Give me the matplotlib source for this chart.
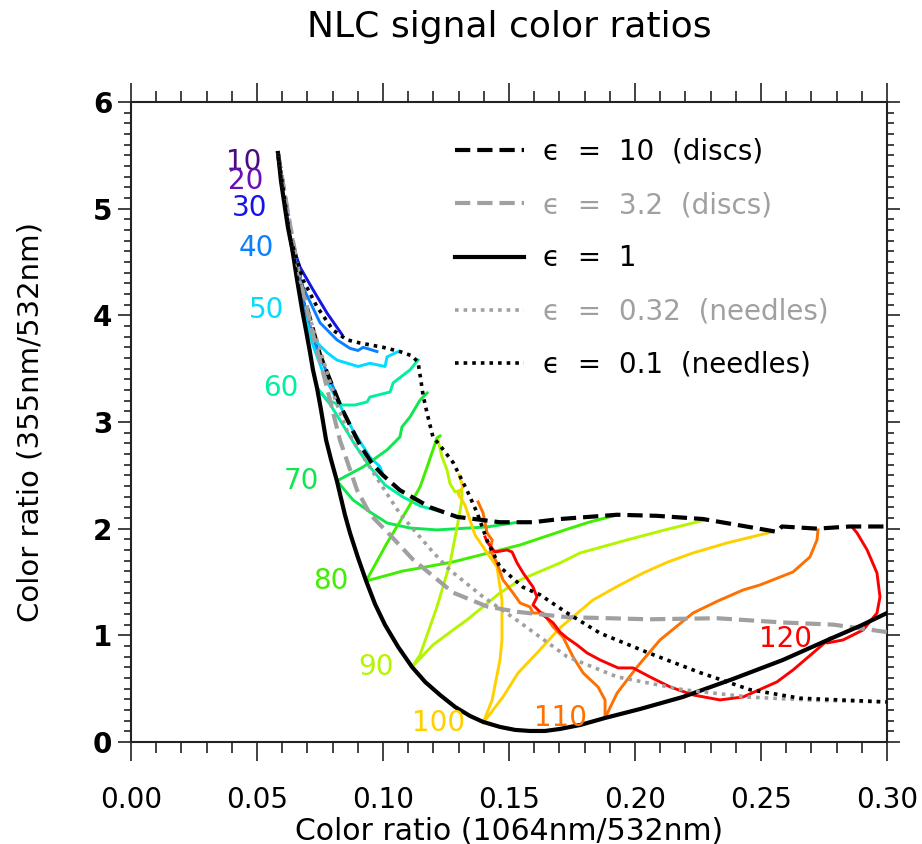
import matplotlib
matplotlib.use("Agg")
import matplotlib.pyplot as plt
from matplotlib.ticker import MultipleLocator, FormatStrFormatter

plt.rcParams['font.family'] = ['DejaVu Sans']
plt.rcParams['lines.scale_dashes'] = False

# aspect-ratio curves (x = 1064/532 ratio, y = 355/532 ratio)
eps10_x = [0.0583, 0.0631, 0.0690, 0.0750, 0.0829, 0.0909, 0.0960, 0.1000, 0.1067, 0.1187, 0.1294,
           0.1464, 0.1595, 0.1702, 0.1929, 0.2087, 0.2270, 0.2417, 0.2563, 0.2583, 0.2722,
           0.2853, 0.3000]
eps10_y = [5.52, 4.80, 4.14, 3.63, 3.16, 2.78, 2.60, 2.50, 2.36, 2.20, 2.11,
           2.06, 2.06, 2.09, 2.13, 2.12, 2.09, 2.03, 1.97, 2.02, 2.00,
           2.02, 2.02]

eps32_x = [0.0583, 0.0631, 0.0671, 0.0718, 0.0770, 0.0829, 0.0897, 0.0950, 0.1016, 0.1119, 0.1278,
           0.1413, 0.1532, 0.1730, 0.2059, 0.2325, 0.2587, 0.2786, 0.3000]
eps32_y = [5.52, 4.85, 4.33, 3.86, 3.39, 2.83, 2.36, 2.13, 1.97, 1.71, 1.40,
           1.27, 1.22, 1.17, 1.15, 1.16, 1.12, 1.10, 1.03]

eps1_x = [0.0583, 0.0587, 0.0595, 0.0611, 0.0623, 0.0639, 0.0659, 0.0679, 0.0694, 0.0710,
          0.0722, 0.0738, 0.0754, 0.0774, 0.0794, 0.0817, 0.0849, 0.0869, 0.0901, 0.0933,
          0.0968, 0.1008, 0.1060, 0.1115, 0.1167, 0.1226, 0.1286, 0.1345, 0.1397, 0.1464,
          0.1524, 0.1583, 0.1643, 0.1702, 0.1782, 0.1881, 0.2020, 0.2190, 0.2389, 0.2587,
          0.2774, 0.2893, 0.3000]
eps1_y = [5.522, 5.438, 5.259, 5.006, 4.819, 4.631, 4.331, 4.050, 3.863, 3.656,
          3.488, 3.319, 3.113, 2.831, 2.644, 2.447, 2.128, 1.959, 1.725, 1.509,
          1.294, 1.097, 0.891, 0.703, 0.563, 0.441, 0.328, 0.244, 0.188, 0.141,
          0.113, 0.103, 0.103, 0.122, 0.159, 0.225, 0.309, 0.422, 0.591, 0.769,
          0.966, 1.088, 1.209]

eps032_x = [0.0583, 0.0631, 0.0671, 0.0718, 0.0770, 0.0810, 0.0857, 0.0909, 0.0960, 0.1067,
            0.1198, 0.1266, 0.1397, 0.1532, 0.1730, 0.1929, 0.2190, 0.2456, 0.2722, 0.3000]
eps032_y = [5.52, 4.85, 4.33, 3.91, 3.53, 3.21, 2.92, 2.72, 2.53, 2.14,
            1.78, 1.61, 1.36, 1.14, 0.80, 0.61, 0.49, 0.42, 0.39, 0.375]

eps01_x = [0.0583, 0.0631, 0.0683, 0.0738, 0.0802, 0.0857, 0.0909, 0.1000, 0.1067, 0.1115,
           0.1139, 0.1147, 0.1159, 0.1175, 0.1198, 0.1226, 0.1278, 0.1333, 0.1373, 0.1413,
           0.1464, 0.1556, 0.1623, 0.1730, 0.1861, 0.2059, 0.2258, 0.2456, 0.2655, 0.2853,
           0.3000]
eps01_y = [5.52, 4.73, 4.33, 4.08, 3.86, 3.77, 3.74, 3.70, 3.66, 3.62,
           3.56, 3.44, 3.25, 3.08, 2.86, 2.78, 2.62, 2.36, 2.15, 1.89,
           1.64, 1.45, 1.38, 1.21, 1.02, 0.83, 0.65, 0.49, 0.41, 0.39,
           0.375]

# constant-angle curves, from the eps=10 end through eps=1 to the eps=0.1 end
angles = [10, 20, 30, 40, 50, 60, 70, 80, 90, 100, 110, 120]
angle_colors = ['#4b0a82', '#6a10b4', '#1414e6', '#0a82ff', '#00dcff', '#00f0a0',
                '#10e650', '#40ee00', '#b4f500', '#ffd000', '#ff7000', '#ff0000']

a10_x = [0.0583, 0.0587, 0.0595]
a10_y = [5.52, 5.44, 5.30]
a20_x = [0.0591, 0.0595, 0.0611, 0.0623]
a20_y = [5.36, 5.26, 5.02, 4.88]
a30_x = [0.0750, 0.0718, 0.0679, 0.0639, 0.0611, 0.0631, 0.0671, 0.0722, 0.0778, 0.0837]
a30_y = [3.63, 3.82, 4.19, 4.61, 5.01, 4.73, 4.45, 4.24, 4.02, 3.82]
a40_x = [0.0829, 0.0778, 0.0722, 0.0663, 0.0639, 0.0679, 0.0750, 0.0817, 0.0869, 0.0901, 0.0921, 0.0976]
a40_y = [3.18, 3.46, 3.77, 4.33, 4.63, 4.28, 3.93, 3.77, 3.69, 3.67, 3.70, 3.66]
a50_x = [0.1000, 0.0988, 0.0948, 0.0881, 0.0817, 0.0770, 0.0722, 0.0679, 0.0722, 0.0778,
         0.0817, 0.0901, 0.0948, 0.1008, 0.1016, 0.1060]
a50_y = [2.50, 2.58, 2.67, 2.92, 3.21, 3.41, 3.72, 4.05, 3.78, 3.65,
         3.58, 3.52, 3.55, 3.52, 3.61, 3.66]
a60_x = [0.1234, 0.1147, 0.1079, 0.1008, 0.0948, 0.0889, 0.0841, 0.0789, 0.0738, 0.0778,
         0.0829, 0.0889, 0.0937, 0.0948, 0.1028, 0.1040, 0.1107, 0.1139]
a60_y = [2.156, 2.213, 2.297, 2.409, 2.578, 2.784, 2.972, 3.169, 3.319, 3.206,
         3.159, 3.159, 3.188, 3.234, 3.281, 3.366, 3.488, 3.581]
a70_x = [0.1544, 0.1413, 0.1214, 0.1107, 0.1016, 0.0948, 0.0881, 0.0817, 0.0921, 0.1016,
         0.1067, 0.1075, 0.1107, 0.1147, 0.1159, 0.1175]
a70_y = [2.063, 2.016, 1.988, 2.006, 2.053, 2.156, 2.269, 2.447, 2.578, 2.738,
         2.859, 2.953, 3.047, 3.206, 3.234, 3.272]
a80_x = [0.1929, 0.1821, 0.1722, 0.1544, 0.1278, 0.1147, 0.1079, 0.0933, 0.1016, 0.1095,
         0.1147, 0.1175, 0.1198, 0.1214, 0.1226]
a80_y = [2.128, 2.063, 1.988, 1.847, 1.688, 1.631, 1.603, 1.509, 1.866, 2.175,
         2.391, 2.578, 2.738, 2.850, 2.869]
a90_x = [0.2278, 0.2119, 0.1968, 0.1782, 0.1702, 0.1544, 0.1464, 0.1333, 0.1278, 0.1198,
         0.1115, 0.1147, 0.1214, 0.1266, 0.1294, 0.1313, 0.1313, 0.1286, 0.1266, 0.1254,
         0.1234, 0.1218]
a90_y = [2.081, 1.988, 1.894, 1.772, 1.678, 1.519, 1.397, 1.144, 1.050, 0.909,
         0.703, 0.816, 1.266, 1.678, 2.016, 2.269, 2.363, 2.344, 2.419, 2.550,
         2.672, 2.831]
a100_x = [0.2544, 0.2365, 0.2230, 0.2131, 0.2032, 0.1933, 0.1833, 0.1702, 0.1611, 0.1536,
          0.1476, 0.1397, 0.1433, 0.1464, 0.1472, 0.1472, 0.1452, 0.1405, 0.1365, 0.1345,
          0.1325, 0.1298, 0.1317, 0.1302]
a100_y = [1.969, 1.866, 1.772, 1.688, 1.584, 1.463, 1.331, 1.069, 0.834, 0.647,
          0.422, 0.178, 0.394, 0.769, 0.956, 1.331, 1.641, 1.800, 1.941, 2.081,
          2.222, 2.325, 2.391, 2.503]
a110_x = [0.2726, 0.2722, 0.2694, 0.2627, 0.2496, 0.2429, 0.2329, 0.2230, 0.2099, 0.2008,
          0.1929, 0.1881, 0.1881, 0.1853, 0.1794, 0.1754, 0.1714, 0.1675, 0.1635, 0.1595,
          0.1583, 0.1544, 0.1516, 0.1476, 0.1452, 0.1425, 0.1433, 0.1413, 0.1397, 0.1377]
a110_y = [1.988, 1.894, 1.734, 1.594, 1.472, 1.425, 1.322, 1.209, 0.956, 0.703,
          0.459, 0.225, 0.394, 0.516, 0.647, 0.797, 0.984, 1.078, 1.209, 1.209,
          1.266, 1.303, 1.397, 1.519, 1.678, 1.800, 1.894, 1.959, 2.147, 2.250]
a120_x = [0.2861, 0.2881, 0.2921, 0.2960, 0.2972, 0.2960, 0.2905, 0.2825, 0.2762, 0.2774,
          0.2734, 0.2627, 0.2563, 0.2429, 0.2337, 0.2230, 0.2139, 0.2060, 0.1992, 0.1933,
          0.1861, 0.1810, 0.1770, 0.1730, 0.1702, 0.1675, 0.1635, 0.1595, 0.1611, 0.1595,
          0.1556, 0.1532, 0.1512, 0.1492, 0.1444, 0.1413, 0.1405]
a120_y = [2.016, 1.959, 1.800, 1.584, 1.359, 1.209, 1.050, 0.956, 0.928, 0.975,
          0.891, 0.675, 0.563, 0.422, 0.394, 0.441, 0.516, 0.609, 0.694, 0.694,
          0.769, 0.834, 0.909, 0.975, 1.031, 1.116, 1.191, 1.284, 1.359, 1.453,
          1.584, 1.678, 1.781, 1.800, 1.781, 1.875, 1.922]

# eps = 1 point of each angle, where the labels sit
label_x = [0.0587, 0.0595, 0.0611, 0.0639, 0.0679, 0.0738, 0.0817, 0.0933, 0.1115, 0.1397, 0.1881, 0.2774]
label_y = [5.44, 5.26, 5.01, 4.63, 4.05, 3.32, 2.45, 1.51, 0.70, 0.18, 0.225, 0.966]

angle_x = [a10_x, a20_x, a30_x, a40_x, a50_x, a60_x, a70_x, a80_x, a90_x, a100_x, a110_x, a120_x]
angle_y = [a10_y, a20_y, a30_y, a40_y, a50_y, a60_y, a70_y, a80_y, a90_y, a100_y, a110_y, a120_y]

gray = '#a0a0a0'
fig = plt.figure(figsize=(9.22, 8.44), dpi=100)
ax = fig.add_axes([0.1421, 0.1209, 0.8200, 0.7583])

for xs, ys, c in zip(angle_x, angle_y, angle_colors):
    ax.plot(xs, ys, color=c, lw=2.1, zorder=2)

h10, = ax.plot(eps10_x, eps10_y, color='black', lw=3, ls=(0, (11, 5)), zorder=3)
h32, = ax.plot(eps32_x, eps32_y, color=gray, lw=3, ls=(0, (11, 5)), zorder=3)
h1, = ax.plot(eps1_x, eps1_y, color='black', lw=3, zorder=3)
h032, = ax.plot(eps032_x, eps032_y, color=gray, lw=2.6, ls=(0, (2.6, 3.6)), zorder=3)
h01, = ax.plot(eps01_x, eps01_y, color='black', lw=2.6, ls=(0, (2.6, 3.6)), zorder=3)

for a, x, y, c in zip(angles, label_x, label_y, angle_colors):
    ax.annotate(str(a), (x, y), xytext=(-13, 0), textcoords='offset points',
                ha='right', va='center', color=c, fontsize=20)

leg = ax.legend([h10, h32, h1, h032, h01],
                ['ϵ  =  10  (discs)', 'ϵ  =  3.2  (discs)', 'ϵ  =  1',
                 'ϵ  =  0.32  (needles)', 'ϵ  =  0.1  (needles)'],
                loc='upper left', bbox_to_anchor=(0.4286, 0.944), frameon=False,
                fontsize=20, handlelength=2.5, handletextpad=0.65, labelspacing=0.91,
                borderpad=0, borderaxespad=0,
                labelcolor=['black', gray, 'black', gray, 'black'])

ax.set_xlim(0, 0.30)
ax.set_ylim(0, 6)
ax.xaxis.set_major_locator(MultipleLocator(0.05))
ax.xaxis.set_minor_locator(MultipleLocator(0.01))
ax.yaxis.set_major_locator(MultipleLocator(1))
ax.yaxis.set_minor_locator(MultipleLocator(0.1))
ax.xaxis.set_major_formatter(FormatStrFormatter('%.2f'))
ax.tick_params(which='both', direction='out', top=True, right=True, width=1.2, colors='#222222')
ax.tick_params(axis='x', which='major', length=14, pad=18, labelsize=20, labelcolor='black')
ax.tick_params(axis='x', which='minor', length=8)
ax.tick_params(axis='y', which='major', length=9.5, pad=4, labelsize=20, labelcolor='black')
ax.tick_params(axis='y', which='minor', length=5)
for lab in ax.get_yticklabels():
    lab.set_fontweight('bold')
for s in ax.spines.values():
    s.set_linewidth(1.5)
    s.set_color('#222222')

ax.set_xlabel('Color ratio (1064nm/532nm)', fontsize=21.5)
ax.xaxis.set_label_coords(0.5, -0.117)
ax.set_ylabel('Color ratio (355nm/532nm)', fontsize=21)
ax.yaxis.set_label_coords(-0.115, 0.5)
fig.text(0.552, 1 - 27 / 844, 'NLC signal color ratios', ha='center', va='center', fontsize=26)

fig.savefig('out.png', dpi=100)
